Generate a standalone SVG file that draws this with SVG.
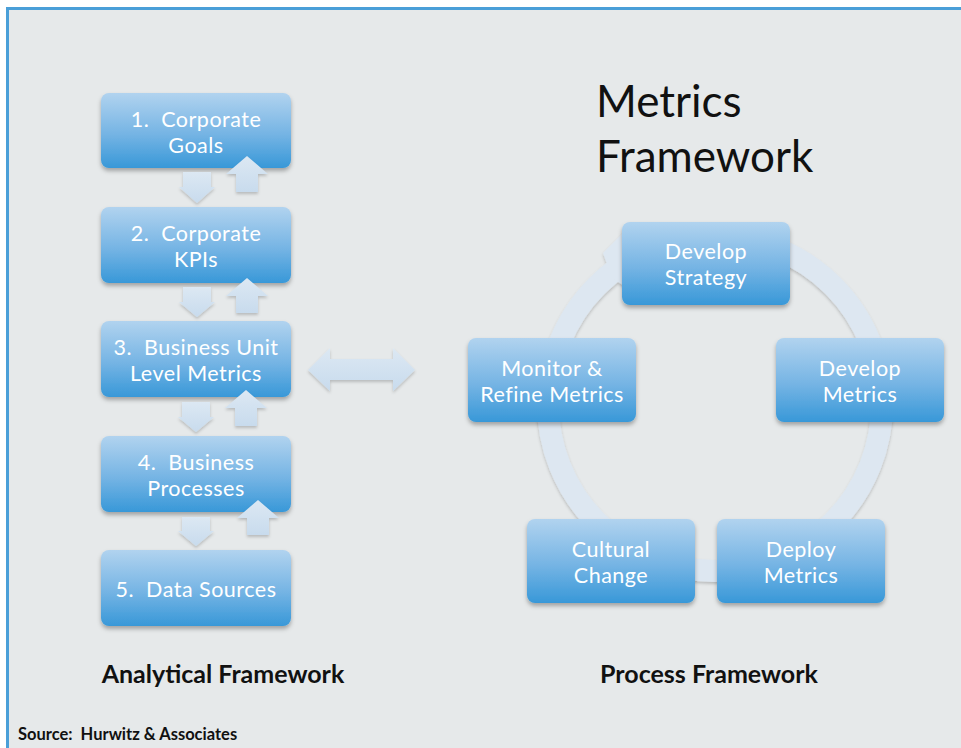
<svg xmlns="http://www.w3.org/2000/svg" width="961" height="748" viewBox="0 0 961 748">
  <defs>
    <linearGradient id="boxFill" x1="0" y1="0" x2="0" y2="1">
      <stop offset="0" stop-color="#b1d3ef"/>
      <stop offset="0.55" stop-color="#75b4e4"/>
      <stop offset="1" stop-color="#3898d8"/>
    </linearGradient>
    <linearGradient id="arrowFill" x1="0" y1="0" x2="0" y2="1">
      <stop offset="0" stop-color="#dce8f3"/>
      <stop offset="1" stop-color="#c8dbed"/>
    </linearGradient>
    <filter id="shadow" x="-10%" y="-10%" width="120%" height="130%">
      <feDropShadow dx="0" dy="3" stdDeviation="2" flood-color="#000" flood-opacity="0.3"/>
    </filter>
    <filter id="softShadow" x="-10%" y="-10%" width="120%" height="130%">
      <feDropShadow dx="0" dy="2" stdDeviation="1.5" flood-color="#000" flood-opacity="0.2"/>
    </filter>
  </defs>
  <style>
    text { white-space: pre; }
    .box { fill: url(#boxFill); filter: url(#shadow); }
    .lbl { font-family: Lato, "Open Sans", sans-serif; font-size: 21.5px; letter-spacing: 0.5px; fill: #ffffff; text-anchor: middle; }
    .arrow { fill: url(#arrowFill); filter: url(#softShadow); }
    .ring { fill: #dde7f1; }
    .title { font-family: Lato, "Open Sans", sans-serif; font-size: 44px; fill: #111111; }
    .caption { font-family: Lato, "Open Sans", sans-serif; font-size: 25px; font-weight: bold; fill: #111111; text-anchor: middle; }
    .source { font-family: Lato, "Open Sans", sans-serif; font-size: 16.5px; font-weight: bold; fill: #111111; }
  </style>

  <!-- page and frame -->
  <rect x="0" y="0" width="961" height="748" fill="#ffffff"/>
  <rect x="7.5" y="8.5" width="960" height="750" fill="#e6e9ea" stroke="#4a9fd8" stroke-width="3"/>

  <!-- title -->
  <text class="title" x="596" y="117">Metrics</text>
  <text class="title" x="596" y="172">Framework</text>

  <!-- cycle ring behind the process boxes -->
  <g id="cycle-ring" filter="url(#softShadow)">
    <circle cx="715" cy="404" r="167" fill="none" stroke="#dde7f1" stroke-width="22"/>
    <polygon class="ring" points="603,253 628,228 640,240 626,287 612,278"/>
  </g>

  <!-- analytical framework -->
  <g id="corporate-goals">
    <rect class="box" x="101" y="93" width="190" height="75" rx="8"/>
    <text class="lbl" x="196" y="127">1.  Corporate</text>
    <text class="lbl" x="196" y="153">Goals</text>
  </g>
  <g id="corporate-kpis">
    <rect class="box" x="101" y="207" width="190" height="76" rx="8"/>
    <text class="lbl" x="196" y="241">2.  Corporate</text>
    <text class="lbl" x="196" y="267">KPIs</text>
  </g>
  <g id="business-unit-metrics">
    <rect class="box" x="101" y="321" width="190" height="76" rx="8"/>
    <text class="lbl" x="196" y="355">3.  Business Unit</text>
    <text class="lbl" x="196" y="381">Level Metrics</text>
  </g>
  <g id="business-processes">
    <rect class="box" x="101" y="436" width="190" height="76" rx="8"/>
    <text class="lbl" x="196" y="470">4.  Business</text>
    <text class="lbl" x="196" y="496">Processes</text>
  </g>
  <g id="data-sources">
    <rect class="box" x="101" y="550" width="190" height="76" rx="8"/>
    <text class="lbl" x="196" y="597">5.  Data Sources</text>
  </g>

  <!-- process framework -->
  <g id="develop-strategy">
    <rect class="box" x="622" y="222" width="168" height="83" rx="8"/>
    <text class="lbl" x="706" y="259">Develop</text>
    <text class="lbl" x="706" y="285">Strategy</text>
  </g>
  <g id="develop-metrics">
    <rect class="box" x="776" y="338" width="168" height="84" rx="8"/>
    <text class="lbl" x="860" y="376">Develop</text>
    <text class="lbl" x="860" y="402">Metrics</text>
  </g>
  <g id="deploy-metrics">
    <rect class="box" x="717" y="519" width="168" height="84" rx="8"/>
    <text class="lbl" x="801" y="557">Deploy</text>
    <text class="lbl" x="801" y="583">Metrics</text>
  </g>
  <g id="cultural-change">
    <rect class="box" x="527" y="519" width="168" height="84" rx="8"/>
    <text class="lbl" x="611" y="557">Cultural</text>
    <text class="lbl" x="611" y="583">Change</text>
  </g>
  <g id="monitor-refine">
    <rect class="box" x="468" y="338" width="168" height="84" rx="8"/>
    <text class="lbl" x="552" y="376">Monitor &amp;</text>
    <text class="lbl" x="552" y="402">Refine Metrics</text>
  </g>

  <!-- arrows between levels and between frameworks -->
  <g id="connectors">
    <!-- downward arrows -->
    <path class="arrow" d="M183,172 H211 V187 H215 L197,203 L179,187 H183 Z"/>
    <path class="arrow" d="M183,287 H211 V302 H215 L197,317 L179,302 H183 Z"/>
    <path class="arrow" d="M182,402 H210 V417 H214 L196,432 L178,417 H182 Z"/>
    <path class="arrow" d="M182,517 H210 V531 H214 L196,546 L178,531 H182 Z"/>
    <!-- upward arrows -->
    <path class="arrow" d="M247,156 L268,174 H258 V192 H236 V174 H226 Z"/>
    <path class="arrow" d="M247,278 L268,296 H258 V313 H236 V296 H226 Z"/>
    <path class="arrow" d="M246,390 L267,408 H257 V426 H235 V408 H225 Z"/>
    <path class="arrow" d="M258,500 L279,518 H269 V535 H247 V518 H237 Z"/>
    <!-- two-way link between the frameworks -->
    <path class="arrow" d="M308,370 L330,348 V359 H393 V348 L415,370 L393,391 V380 H330 V391 Z"/>
  </g>

  <!-- captions -->
  <text class="caption" x="223" y="683">Analytical Framework</text>
  <text class="caption" x="709" y="683">Process Framework</text>
  <text class="source" x="18" y="740">Source:  Hurwitz &amp; Associates</text>
</svg>
